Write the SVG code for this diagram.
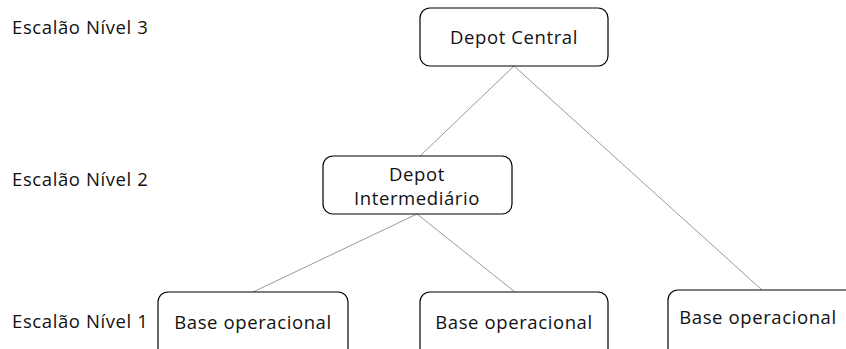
<svg xmlns="http://www.w3.org/2000/svg" width="846" height="349" viewBox="0 0 846 349">
<style>
.box{fill:#fff;stroke:#000;stroke-width:1.2}
.t{font-family:"Open Sans","Liberation Sans",sans-serif;font-size:18.5px;letter-spacing:0.6px;fill:#111;text-anchor:middle}
.l{font-family:"Open Sans","Liberation Sans",sans-serif;font-size:18.5px;letter-spacing:0.6px;fill:#111}
.c{stroke:#999;stroke-width:1;fill:none}
</style>
<rect width="846" height="349" fill="#fff"/>
<g id="connectors">
<line class="c" x1="514" y1="66" x2="420" y2="156"/>
<line class="c" x1="514" y1="66" x2="762" y2="290"/>
<line class="c" x1="417" y1="214" x2="253" y2="292"/>
<line class="c" x1="417" y1="214" x2="515" y2="292"/>
</g>
<g id="labels">
<text class="l" x="12" y="34">Escalão Nível 3</text>
<text class="l" x="12" y="186">Escalão Nível 2</text>
<text class="l" x="12" y="328">Escalão Nível 1</text>
</g>
<g id="depot-central">
<rect class="box" x="420" y="8" width="188" height="58" rx="10"/>
<text class="t" x="514" y="44">Depot Central</text>
</g>
<g id="depot-intermediario">
<rect class="box" x="323" y="156" width="189" height="58" rx="10"/>
<text class="t" x="417" y="181">Depot</text>
<text class="t" x="417" y="205">Intermediário</text>
</g>
<g id="base1">
<rect class="box" x="158" y="292" width="190" height="70" rx="10"/>
<text class="t" x="253" y="329">Base operacional</text>
</g>
<g id="base2">
<rect class="box" x="420" y="292" width="188" height="70" rx="10"/>
<text class="t" x="514" y="329">Base operacional</text>
</g>
<g id="base3">
<rect class="box" x="668" y="290" width="190" height="70" rx="10"/>
<text class="t" x="758" y="324">Base operacional</text>
</g>
</svg>
